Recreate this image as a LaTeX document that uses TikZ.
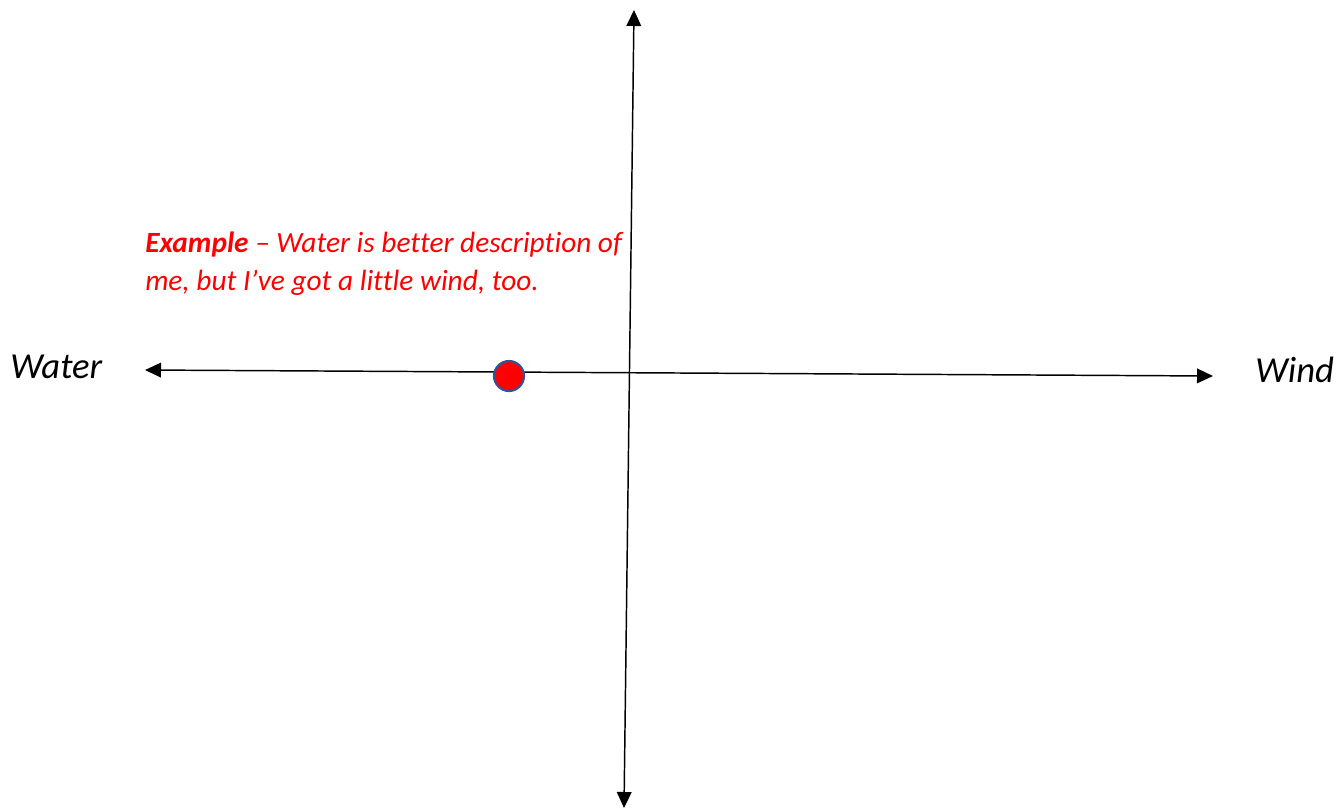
\documentclass[tikz,border=0pt]{standalone}
\usepackage{fontspec}
\setmainfont{Carlito}[Ligatures=NoCommon]
\usetikzlibrary{arrows.meta,positioning}
\definecolor{dotred}{RGB}{255,0,0}
\definecolor{dotblue}{RGB}{47,85,151}

\begin{document}
\begin{tikzpicture}[x=0.75pt,y=-0.75pt,line cap=round,line join=round,
                     axis/.style={{Triangle[length=12pt,width=11pt]}-{Triangle[length=12pt,width=11pt]},line width=1.1pt},
                     pole/.style={font=\fontsize{27.5}{32}\selectfont\itshape,inner sep=0pt}]
  % Rahmen wie im Original.
  \useasboundingbox (0,0) rectangle (1344,811);
  % Achsenenden.
  \coordinate (west) at (145,370);
  \coordinate (east) at (1213,376);
  \coordinate (north) at (634,10);
  \coordinate (south) at (624,808);
  \draw[axis] (west) -- (east);
  \draw[axis] (south) -- (north);
  % Beschriftung der beiden Pole.
  \node[pole,anchor=base west] (water) at (10,378) {Water};
  \node[pole,anchor=base west] (wind) at (1255,382) {Wind};
  % Markierter Punkt und Beispieltext.
  \node[circle,fill=dotred,draw=dotblue,line width=1.6pt,minimum size=22.5pt,inner sep=0pt]
       (me) at (509,376) {};
  \node[dotred,anchor=base west,align=left,inner sep=0pt,
        font=\fontsize{22}{28.5}\selectfont\itshape] (example) at (145,290)
       {\textbf{Example} -- Water is better description of\\me, but I’ve got a little wind, too.};
\end{tikzpicture}
\end{document}
